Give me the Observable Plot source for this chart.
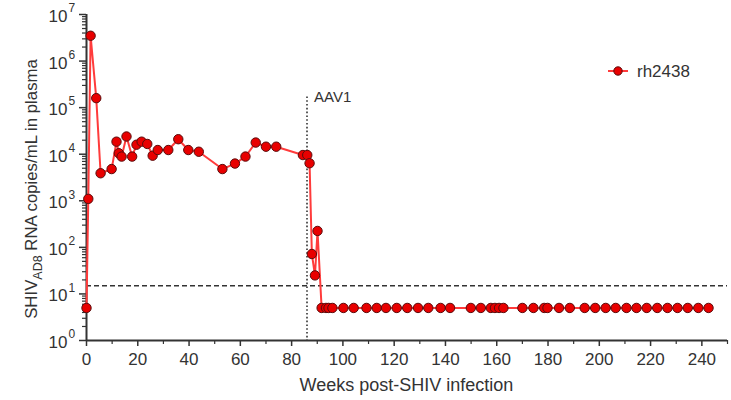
<!DOCTYPE html>
<html><head><meta charset="utf-8">
<script src="https://cdn.jsdelivr.net/npm/d3@7"></script>
<script src="https://cdn.jsdelivr.net/npm/@observablehq/plot@0.6"></script>
<style>body{margin:0;background:#fff} #chart{width:731px;height:400px}</style>
</head><body><div id="chart"></div>
<script>
// ---- data ----
const seriesName = "rh2438";
const weeks = [0, 0.7, 1.6, 3.8, 5.5, 9.8, 11.7, 12.6, 13.7, 15.6, 17.8, 19.5, 21.5, 23.7, 25.8, 27.8,
  31.9, 35.8, 39.7, 43.8, 53, 57.9, 62, 66, 70, 74, 84.4, 86.1, 87, 87.9, 89.1, 90.1,
  91.7, 93.4, 94.4, 95.9, 100.2, 104.2, 109.2, 113.2, 116.8, 121, 125.1, 129.3, 133.3, 138.1, 141.8,
  149.9, 153.8, 157.7, 159.3, 160.9, 162.6, 170, 174.3, 178.5, 179.8, 184.3, 188.5, 194.3, 198.4,
  202.5, 206.4, 210.6, 214.5, 218.5, 222.6, 226.6, 230.5, 234.5, 238.6, 242.6];
const copies = [5, 1100, 3.5e6, 1.6e5, 3900, 4800, 18600, 10500, 8900, 24000, 8900, 16000, 18600, 16600, 9300, 12300,
  12300, 21000, 12300, 11300, 4800, 6300, 8900, 17800, 14500, 14500, 9600, 9600, 6400, 72, 25, 225,
  5, 5, 5, 5, 5, 5, 5, 5, 5, 5, 5, 5, 5, 5, 5,
  5, 5, 5, 5, 5, 5, 5, 5, 5, 5, 5, 5, 5, 5,
  5, 5, 5, 5, 5, 5, 5, 5, 5, 5, 5];
const detectionLimit = 15;
const aav1Week = 86;
const aav1Top = 1.7e5;
const aav1Label = "AAV1";
const xTicks = [0, 20, 40, 60, 80, 100, 120, 140, 160, 180, 200, 220, 240];
const xMinorTicks = [10, 30, 50, 70, 90, 110, 130, 150, 170, 190, 210, 230, 250];
const yDecades = [0, 1, 2, 3, 4, 5, 6, 7];
const xTitle = "Weeks post-SHIV infection";
const yTitleParts = ["SHIV", "AD8", " RNA copies/mL in plasma"];

// ---- build ----
const data = weeks.map((w, i) => ({week: w, copies: copies[i]}));
const yMajor = yDecades.map(d => 10 ** d);
const yMinor = [];
for (const d of yDecades.slice(0, -1)) for (let m = 2; m <= 9; m++) yMinor.push(m * 10 ** d);

const ink = "#333";
const font = "'Liberation Sans', Arial, sans-serif";
const lineRed = "#ff3b3b";
const dotRed = "#e80000";
const dotStroke = "#5a0c0c";

const plot = Plot.plot({
  width: 731, height: 400,
  marginLeft: 86, marginRight: 4, marginTop: 14, marginBottom: 60,
  style: {fontFamily: font, color: ink, background: "#fff", overflow: "visible"},
  x: {domain: [0, 250], axis: null},
  y: {type: "log", domain: [1, 1e7], axis: null},
  marks: [
    Plot.ruleY([detectionLimit], {x1: 0, x2: 250, stroke: ink, strokeWidth: 1.5, strokeDasharray: "5,3"}),
    Plot.ruleX([aav1Week], {y1: aav1Top, y2: 1, stroke: ink, strokeWidth: 1.6, strokeDasharray: "1.6,2.2"}),
    Plot.text([aav1Label], {x: aav1Week, y: aav1Top, text: d => d, textAnchor: "start", dx: 7, dy: 0, fontSize: 15, fill: ink}),
    Plot.axisY(yMinor, {tickSize: 4, tickFormat: () => "", label: null, strokeWidth: 1.2}),
    Plot.axisY(yMajor, {tickSize: 7, tickFormat: () => "", label: null, strokeWidth: 1.5}),
    Plot.text(yDecades, {x: 0, y: d => 10 ** d, text: () => "10", textAnchor: "end", dx: -19, dy: 2, fontSize: 17, fill: ink}),
    Plot.text(yDecades, {x: 0, y: d => 10 ** d, text: d => String(d), textAnchor: "start", dx: -18, dy: -6, fontSize: 12, fill: ink}),
    Plot.axisX(xMinorTicks, {tickSize: 4, tickFormat: () => "", label: null, strokeWidth: 1.2}),
    Plot.axisX(xTicks, {tickSize: 6, tickPadding: 6, fontSize: 17, label: null, strokeWidth: 1.5, tickFormat: d => String(d)}),
    Plot.ruleX([0], {y1: 1, y2: 1e7, stroke: ink, strokeWidth: 2}),
    Plot.ruleY([1], {x1: 0, x2: 250, stroke: ink, strokeWidth: 2}),
    Plot.line(data, {x: "week", y: "copies", stroke: lineRed, strokeWidth: 2}),
    Plot.dot(data, {x: "week", y: "copies", r: 4.7, fill: dotRed, stroke: dotStroke, strokeWidth: 1})
  ]
});

document.getElementById("chart").appendChild(plot);

// titles & legend
const svg = d3.select(plot);
const xs = plot.scale("x"), ys = plot.scale("y");
const xMid = (xs.range[0] + xs.range[1]) / 2;
const yMid = (ys.range[0] + ys.range[1]) / 2;

svg.append("text")
  .attr("x", xMid).attr("y", 391)
  .attr("text-anchor", "middle")
  .attr("font-family", font).attr("font-size", 18).attr("fill", ink)
  .text(xTitle);

const yt = svg.append("text")
  .attr("transform", `translate(37,${yMid + 12}) rotate(-90)`)
  .attr("text-anchor", "middle")
  .attr("font-family", font).attr("font-size", 16.8).attr("fill", ink);
yt.append("tspan").text(yTitleParts[0]);
yt.append("tspan").attr("font-size", 12.5).attr("dy", 5).text(yTitleParts[1]);
yt.append("tspan").attr("dy", -5).text(yTitleParts[2]);

const lg = svg.append("g").attr("transform", "translate(618,71)");
lg.append("line").attr("x1", -10).attr("x2", 10).attr("stroke", lineRed).attr("stroke-width", 2);
lg.append("circle").attr("r", 4.2).attr("fill", dotRed).attr("stroke", dotStroke);
lg.append("text").attr("x", 19).attr("y", 6)
  .attr("text-anchor", "start")
  .attr("font-family", font).attr("font-size", 17).attr("fill", ink)
  .text(seriesName);
</script></body></html>
